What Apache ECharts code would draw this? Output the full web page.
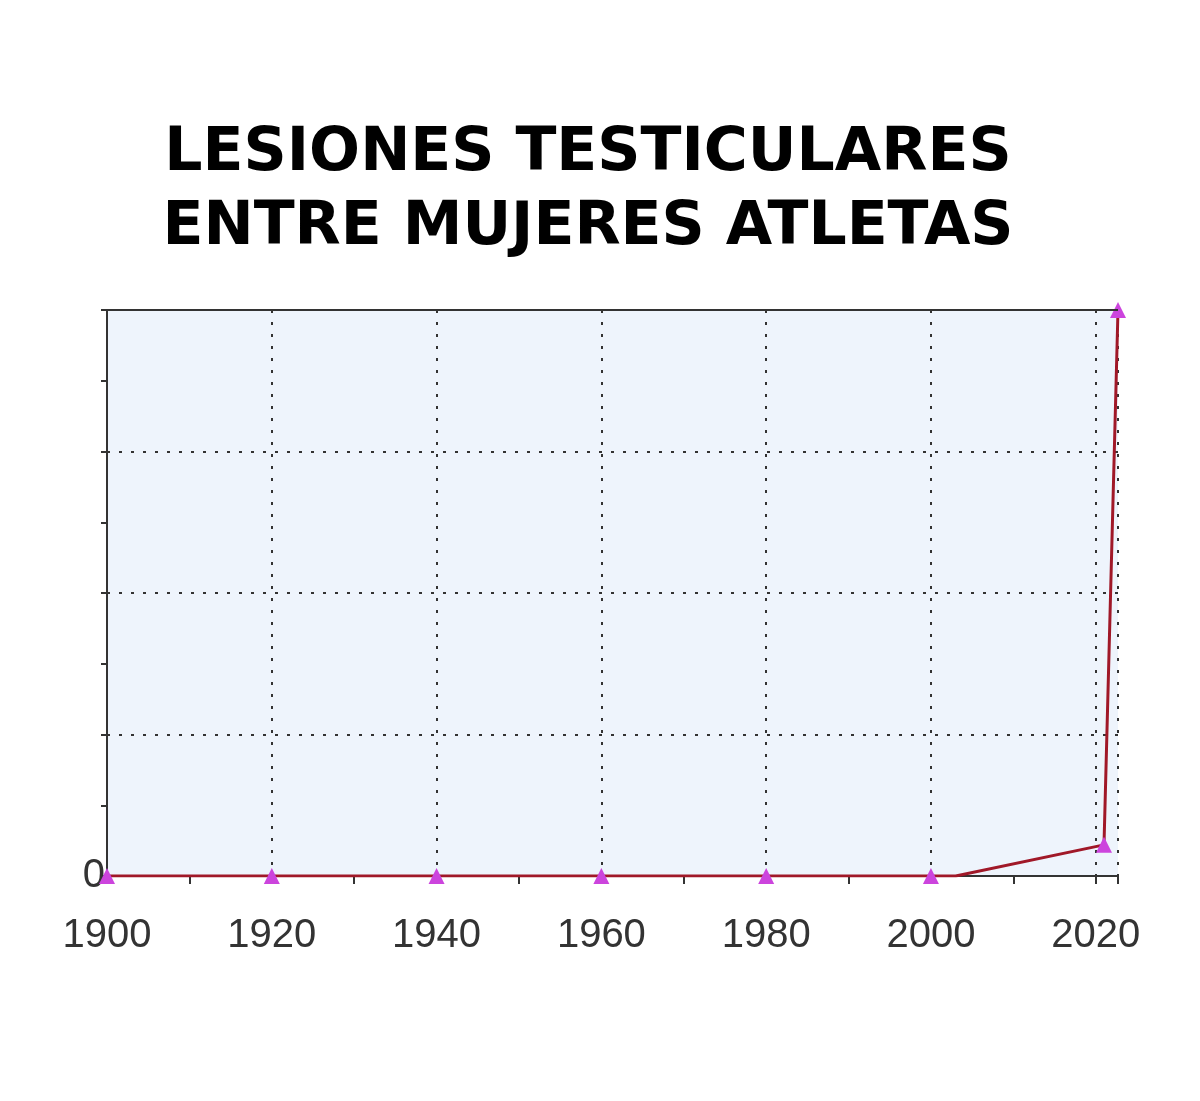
<!DOCTYPE html>
<html>
<head>
<meta charset="utf-8">
<script src="https://cdn.jsdelivr.net/npm/echarts@6/dist/echarts.min.js"></script>
<style>
  html, body { margin: 0; padding: 0; background: #fff; }
  #main { width: 1200px; height: 1101px; }
</style>
</head>
<body>
<div id="main"></div>
<script>
var titleLines = ['LESIONES TESTICULARES', 'ENTRE MUJERES ATLETAS'];
var years = [1900, 1920, 1940, 1960, 1980, 2000, 2003, 2021, 2022.7];
var values = [0, 0, 0, 0, 0, 0, 0, 5.5, 100];
var marked = [true, true, true, true, true, true, false, true, true];
var xTicks = [1900, 1920, 1940, 1960, 1980, 2000, 2020];

var chart = echarts.init(document.getElementById('main'));

var points = years.map(function (y, i) {
    return { value: [y, values[i]], symbol: marked[i] ? 'triangle' : 'none' };
});

chart.setOption({
    animation: false,
    title: {
        text: titleLines.join('\n'),
        left: 583, top: 112, textAlign: 'center',
        textStyle: { fontFamily: 'DejaVu Sans', fontWeight: 'bold', fontSize: 60, lineHeight: 74, color: '#000' }
    },
    grid: { left: 107, right: 82, top: 310, bottom: 225, backgroundColor: '#eef4fc', show: true, borderWidth: 0 },
    xAxis: {
        type: 'value', min: 1900, max: 2022.7, interval: 20,
        axisLine: { onZero: false, lineStyle: { color: '#333', width: 2 } },
        axisTick: { show: true, inside: false, length: 8, lineStyle: { color: '#333', width: 2 } },
        minorTick: { show: true, splitNumber: 2, length: 8, lineStyle: { color: '#333', width: 2 } },
        axisLabel: {
            fontFamily: 'Liberation Sans', fontSize: 40, color: '#333', margin: 40,
            showMaxLabel: false,
            formatter: function (v) { return xTicks.indexOf(v) >= 0 ? String(v) : ''; }
        },
        splitLine: { show: true, lineStyle: { type: [3, 9], color: '#333', width: 2 } }
    },
    yAxis: {
        type: 'value', min: 0, max: 100, interval: 25,
        axisLine: { show: true, lineStyle: { color: '#333', width: 2 } },
        axisTick: { show: true, length: 6, lineStyle: { color: '#333', width: 2 } },
        minorTick: { show: true, splitNumber: 2, length: 6, lineStyle: { color: '#333', width: 2 } },
        axisLabel: {
            fontFamily: 'Liberation Sans', fontSize: 40, color: '#333', margin: 2,
            formatter: function (v) { return v === 0 ? '0' : ''; }
        },
        splitLine: { show: true, lineStyle: { type: [3, 9], color: '#333', width: 2 } }
    },
    series: [{
        type: 'line',
        data: points,
        symbolSize: 16,
        lineStyle: { color: '#a01828', width: 3 },
        itemStyle: { color: '#cc44dd' },
        markLine: {
            silent: true, symbol: 'none', label: { show: false },
            lineStyle: { color: '#333', type: 'solid', width: 2 },
            data: [{ yAxis: 100 }]
        }
    }]
});
</script>
</body>
</html>
